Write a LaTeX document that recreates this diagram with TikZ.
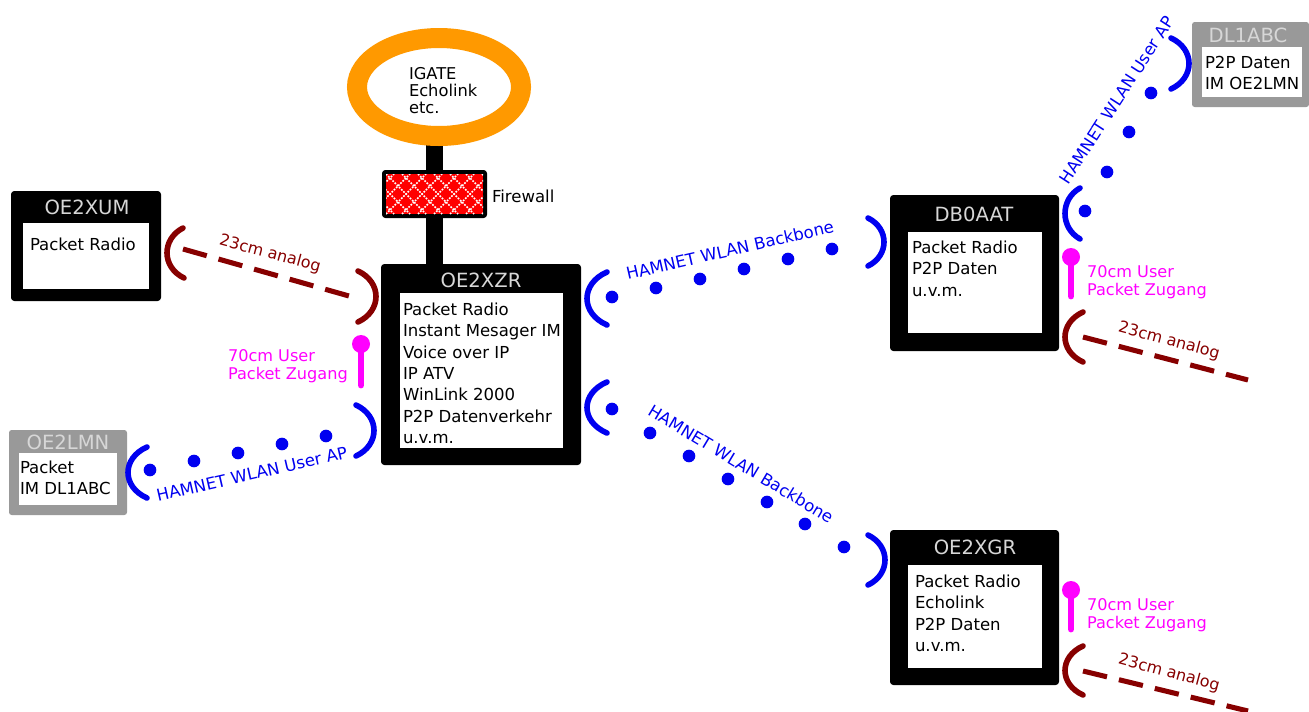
\documentclass[tikz,border=0pt]{standalone}
\usepackage{fontspec}
\setmainfont{DejaVu Sans}
\usetikzlibrary{backgrounds,shapes.geometric}
\definecolor{wlanblue}{RGB}{0,0,240}
\definecolor{analogred}{RGB}{135,0,0}
\definecolor{userpink}{RGB}{255,0,255}
\definecolor{igorange}{RGB}{255,153,0}
\definecolor{guestgray}{RGB}{153,153,153}
\definecolor{titlegray}{RGB}{215,215,215}
\tikzset{
  x=0.75pt,y=-0.75pt,
  every node/.style={inner sep=0pt,outer sep=0pt},
  stationbox/.style={fill=black,rounded corners=2.5pt},
  guestbox/.style={fill=guestgray,rounded corners=2pt},
  innerbox/.style={fill=white},
  boxtext/.style={anchor=north west,align=left,text=black,font=\fontsize{12.4}{16}\selectfont},
  titletext/.style={text=titlegray,font=\fontsize{14.7}{15}\selectfont},
  wlanarc/.style={draw=wlanblue,line width=4.2pt,line cap=round},
  analogarc/.style={draw=analogred,line width=4.2pt,line cap=round},
  wlandot/.style={circle,fill=wlanblue,minimum size=9.5pt},
  analoglink/.style={draw=analogred,line width=3.8pt,dash pattern=on 18.5pt off 9.2pt},
  micstem/.style={draw=userpink,line width=5.2pt,line cap=round},
  michead/.style={circle,fill=userpink,minimum size=13.5pt},
  wlanlabel/.style={text=wlanblue,font=\fontsize{12.4}{14}\selectfont},
  analoglabel/.style={text=analogred,font=\fontsize{12}{14}\selectfont},
  userlabel/.style={anchor=north west,align=left,text=userpink,font=\fontsize{12.1}{12.8}\selectfont},
  feedbar/.style={draw=black,line width=13pt},
}
\newcommand{\pxbox}[6]{\node[#6,minimum width={(#4-#2)*0.75pt},minimum height={(#5-#3)*0.75pt}] (#1) at ({(#2+#4)/2},{(#3+#5)/2}) {};}
\newcommand{\bracket}[7]{\draw[#7] (#1,#2) .. controls ({#1+(#3-#1)/0.75},{#2+(#6-#2)*0.22}) and ({#5+(#3-#5)/0.75},{#6-(#6-#2)*0.22}) .. (#5,#6);}
\begin{document}
\begin{tikzpicture}
\useasboundingbox (0,0) rectangle (1309,711);
% stations
\pxbox{xum}{11}{191}{161}{301}{stationbox}
\pxbox{xumin}{23}{223}{149}{289}{innerbox}
\node[titletext] (xumt) at (87,207) {OE2XUM};
\node[boxtext] (xumx) at (30,238) {Packet Radio};

\pxbox{xzr}{381}{264}{581}{465}{stationbox}
\pxbox{xzrin}{400}{293}{563}{448}{innerbox}
\node[titletext] (xzrt) at (481,280) {OE2XZR};
\node[boxtext] (xzrx) at (403,303) {Packet Radio\\Instant Mesager IM\\Voice over IP\\IP ATV\\WinLink 2000\\P2P Datenverkehr\\u.v.m.};

\pxbox{aat}{890}{195}{1059}{351}{stationbox}
\pxbox{aatin}{908}{232}{1042}{333}{innerbox}
\node[titletext] (aatt) at (974,214) {DB0AAT};
\node[boxtext] (aatx) at (912,241) {Packet Radio\\P2P Daten\\u.v.m.};

\pxbox{xgr}{890}{530}{1059}{685}{stationbox}
\pxbox{xgrin}{908}{565}{1042}{668}{innerbox}
\node[titletext] (xgrt) at (975,547) {OE2XGR};
\node[boxtext] (xgrx) at (915,575) {Packet Radio\\Echolink\\P2P Daten\\u.v.m.};

\pxbox{lmn}{9}{430}{127}{515}{guestbox}
\pxbox{lmnin}{19}{453}{117}{505}{innerbox}
\node[titletext] (lmnt) at (68,442) {OE2LMN};
\node[boxtext] (lmnx) at (20,461) {Packet\\IM DL1ABC};

\pxbox{abc}{1192}{22}{1309}{107}{guestbox}
\pxbox{abcin}{1202}{47}{1302}{97}{innerbox}
\node[titletext] (abct) at (1248,35) {DL1ABC};
\node[boxtext] (abcx) at (1205,56) {P2P Daten\\IM OE2LMN};

% igate ring
\node[draw=igorange,line width=15pt,fill=white,ellipse,minimum width=123pt,minimum height=73.5pt] (igate) at (439,87) {};
\node[boxtext,font=\fontsize{12.2}{12.8}\selectfont] (igatex) at (409,67) {IGATE\\Echolink\\etc.};

% firewall
\pxbox{fw}{382}{170}{487}{218}{stationbox}
\pxbox{fwin}{386}{174}{483}{214}{fill=red}
\begin{scope}
\clip (386,174) rectangle (483,214);
\foreach \k in {-4,...,8}{
  \draw[white,line width=1.1pt,dash pattern=on 1.3pt off 1pt] ({386+16*\k},174) -- ++(40,40);
  \draw[white,line width=1.1pt,dash pattern=on 1.3pt off 1pt] ({386+16*\k},214) -- ++(40,-40);
}
\end{scope}
\node[boxtext,anchor=west,font=\fontsize{12.4}{13}\selectfont] (fwl) at (492,196) {Firewall};

\begin{scope}[on background layer]
\draw[feedbar] (fw.center) -- (fw.center |- igate.south);
\draw[feedbar] (fw.center) -- (fw.center |- xzr.north);
\end{scope}

% OE2XUM - OE2XZR analog
\bracket{183}{228}{167}{252}{184}{278}{analogarc}
\bracket{358}{271}{376}{296}{358}{322}{analogarc}
\coordinate (a1s) at (183,249); \coordinate (a1e) at (349,296);
\draw[analoglink] (a1s) -- (a1e);
\node[analoglabel,rotate=-15] (a1l) at (270,254) {23cm analog};

% OE2XZR 70cm
\node[michead] (m1) at (361,344) {};
\coordinate (m1e) at (361,385);
\draw[micstem] (m1) -- (m1e);
\node[userlabel] (m1l) at (228,350) {70cm User\\Packet Zugang};

% OE2XZR - OE2LMN wlan
\bracket{356}{405}{374}{430}{356}{456}{wlanarc}
\bracket{147}{447}{128}{473}{147}{498}{wlanarc}
\foreach \n/\x/\y in {a/150/470,b/194/461,c/238/453,d/282/444,e/326/436}
  \node[wlandot] (w1\n) at (\x,\y) {};
\node[wlanlabel,rotate=13] (w1l) at (252,474) {HAMNET WLAN User AP};

% OE2XZR - DB0AAT backbone
\bracket{607}{272}{587}{298}{607}{325}{wlanarc}
\bracket{868}{218}{884}{243}{868}{266}{wlanarc}
\foreach \n/\x/\y in {a/612/297,b/656/288,c/700/279,d/744/269,e/788/259,f/832/249}
  \node[wlandot] (w2\n) at (\x,\y) {};
\node[wlanlabel,rotate=13] (w2l) at (730,250) {HAMNET WLAN Backbone};

% OE2XZR - OE2XGR backbone
\bracket{607}{382}{587}{407}{607}{433}{wlanarc}
\bracket{868}{535}{885}{560}{868}{585}{wlanarc}
\foreach \n/\x/\y in {a/612/409,b/650/433,c/689/456,d/728/479,e/767/502,f/805/524,g/844/547}
  \node[wlandot] (w3\n) at (\x,\y) {};
\node[wlanlabel,rotate=-31] (w3l) at (741,464) {HAMNET WLAN Backbone};

% DB0AAT - DL1ABC
\bracket{1080}{188}{1065}{213}{1080}{239}{wlanarc}
\bracket{1171}{38}{1189}{63}{1171}{89}{wlanarc}
\foreach \n/\x/\y in {a/1085/211,b/1107/172,c/1129/132,d/1151/93}
  \node[wlandot] (w4\n) at (\x,\y) {};
\node[wlanlabel,rotate=57] (w4l) at (1117,100) {HAMNET WLAN User AP};

% DB0AAT user + analog
\node[michead] (m2) at (1071,257) {};
\coordinate (m2e) at (1071,296);
\draw[micstem] (m2) -- (m2e);
\node[userlabel] (m2l) at (1087,266) {70cm User\\Packet Zugang};
\bracket{1083}{312}{1065}{337}{1083}{362}{analogarc}
\coordinate (a2s) at (1083,337); \coordinate (a2e) at (1248,380);
\draw[analoglink] (a2s) -- (a2e);
\node[analoglabel,rotate=-15] (a2l) at (1169,341) {23cm analog};

% OE2XGR user + analog
\node[michead] (m3) at (1071,590) {};
\coordinate (m3e) at (1071,629);
\draw[micstem] (m3) -- (m3e);
\node[userlabel] (m3l) at (1087,599) {70cm User\\Packet Zugang};
\bracket{1083}{646}{1065}{671}{1083}{695}{analogarc}
\coordinate (a3s) at (1083,671); \coordinate (a3e) at (1248,711);
\draw[analoglink] (a3s) -- (a3e);
\node[analoglabel,rotate=-15] (a3l) at (1169,673) {23cm analog};
\end{tikzpicture}
\end{document}
